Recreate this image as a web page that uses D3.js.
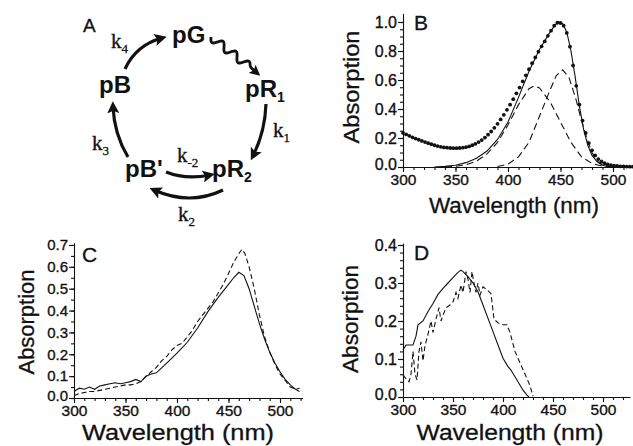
<!DOCTYPE html>
<html>
<head>
<meta charset="utf-8">
<script src="https://cdn.jsdelivr.net/npm/d3@7"></script>
<style>
  body { margin: 0; background: #fff; }
  svg { display: block; }
</style>
</head>
<body>
<svg id="fig" width="633" height="446"></svg>
<script>
// ---- data ----
const xTickNm = [300, 350, 400, 450, 500];
const bYTicks = [0, 0.2, 0.4, 0.6, 0.8, 1.0];
const cYTicks = [0, 0.1, 0.2, 0.3, 0.4, 0.5, 0.6, 0.7];
const dYTicks = [0, 0.1, 0.2, 0.3, 0.4];

// panel B: measured spectrum (dots), total fit and the two fitted bands
const bDotNm = [300,303,306,309,312,315,318,321,324,327,330,333,336,339,342,345,348,351,354,357,
  360,363,366,369,372,375,378,381,384,387,390,393,396,399,402,405,408,411,414,417,
  420,423,426,429,432,435,438,441,444,447,450,453,456,459,462,465,468,471,474,477,
  480,483,486,489,492,495,498,501,504,507,510,513,516,519];
const bDotAbs = [0.235,0.225,0.215,0.205,0.196,0.188,0.180,0.172,0.164,0.157,
  0.150,0.144,0.139,0.135,0.133,0.131,0.130,0.130,0.131,0.133,
  0.137,0.142,0.150,0.160,0.172,0.186,0.203,0.223,0.245,0.270,
  0.298,0.328,0.360,0.394,0.430,0.468,0.508,0.548,0.590,0.632,
  0.674,0.716,0.756,0.795,0.832,0.866,0.905,0.940,0.975,0.995,
  0.993,0.975,0.925,0.830,0.700,0.560,0.430,0.320,0.235,0.165,
  0.115,0.080,0.055,0.038,0.026,0.018,0.013,0.009,0.007,0.005,
  0.004,0.003,0.002,0.002];
const bFitNm = [330,340,350,360,370,380,390,400,410,420,430,440,445,448,452,456,460,464,468,472,476,480,485,490,495,500,520];
const bFitAbs = [0,0.004,0.012,0.03,0.06,0.11,0.19,0.31,0.48,0.66,0.81,0.93,0.98,1.0,0.99,0.93,0.80,0.62,0.42,0.26,0.15,0.08,0.035,0.012,0.004,0,0];
const bBand1Nm = [340,350,360,370,380,390,400,410,420,425,430,440,450,460,470,480,490,500];
const bBand1Abs = [0,0.005,0.015,0.04,0.09,0.17,0.29,0.43,0.54,0.56,0.545,0.45,0.31,0.17,0.07,0.025,0.006,0];
const bBand2Nm = [390,400,410,420,430,440,446,452,458,465,470,475,480,485,490,500];
const bBand2Abs = [0.003,0.02,0.07,0.17,0.35,0.53,0.63,0.67,0.62,0.46,0.32,0.2,0.1,0.04,0.015,0];

// panel C
const cSolidNm = [300,305,310,315,320,325,330,335,340,345,350,355,360,365,370,375,380,
  390,400,410,420,430,440,450,455,460,465,470,475,480,485,490,495,500,505,510,515,519];
const cSolidAbs = [0.03,0.045,0.04,0.05,0.04,0.055,0.06,0.065,0.07,0.065,0.07,0.075,0.085,0.075,0.10,0.11,0.115,
  0.16,0.205,0.255,0.32,0.395,0.46,0.52,0.55,0.575,0.56,0.50,0.42,0.34,0.27,0.21,0.16,0.12,0.085,0.06,0.04,0.03];
const cDashNm = [300,305,310,315,320,325,330,335,340,345,350,355,360,365,370,375,380,385,390,395,
  400,405,410,415,420,425,430,435,440,445,450,455,460,463,466,470,475,480,485,490,495,500,505,510,515,519];
const cDashAbs = [0.01,0.02,0.025,0.03,0.03,0.035,0.04,0.045,0.05,0.055,0.06,0.06,0.065,0.075,0.10,0.12,0.14,0.17,0.19,0.22,
  0.24,0.25,0.28,0.31,0.35,0.38,0.41,0.44,0.48,0.52,0.57,0.62,0.66,0.68,0.66,0.60,0.50,0.38,0.28,0.21,0.155,0.11,0.08,0.05,0.04,0.045];

// panel D
const dSolidNm = [300,303,310,313,315,320,325,330,335,340,345,350,355,358,360,365,370,375,380,385,
  390,395,400,405,408,410,415,420,424,426];
const dSolidAbs = [0.124,0.137,0.137,0.16,0.19,0.20,0.225,0.246,0.27,0.286,0.30,0.314,0.328,0.334,0.33,0.317,0.30,0.277,0.242,0.207,
  0.172,0.137,0.102,0.08,0.071,0.062,0.04,0.018,0.005,0];
const dDashNm = [300,303,306,308,310,312,314,316,318,320,322,325,328,330,333,336,338,340,343,346,
  350,353,355,358,360,363,365,367,369,371,373,375,377,380,385,388,391,395,400,404,407,412,417,422,427,430];
const dDashAbs = [0.058,0.048,0.04,0.06,0.12,0.06,0.045,0.12,0.145,0.095,0.135,0.165,0.2,0.17,0.205,0.235,0.2,0.215,0.235,0.24,
  0.25,0.275,0.26,0.295,0.275,0.33,0.31,0.275,0.33,0.3,0.275,0.3,0.268,0.29,0.28,0.272,0.205,0.195,0.19,0.19,0.17,0.12,0.09,0.06,0.03,0.002];

// ---- drawing ----
const svg = d3.select("#fig");
const sans = '"Liberation Sans", Arial, Helvetica, sans-serif';
const serif = '"Liberation Serif", "Times New Roman", serif';
const ink = "#111";

// scanned-print look: give text a hair of stroke
function heavy(sel, w) {
  return sel.attr("stroke", ink).attr("stroke-width", w).attr("paint-order", "stroke");
}

function panel(o) {
  const x = d3.scaleLinear().domain(o.xDomain).range(o.xRange);
  const y = d3.scaleLinear().domain(o.yDomain).range(o.yRange);
  const g = svg.append("g").attr("font-family", sans);
  const x0 = o.xRange[0], y0 = o.yRange[0];

  // minor ticks
  g.append("g")
    .attr("transform", `translate(0,${y0})`)
    .call(d3.axisBottom(x).tickValues(d3.range(300, o.xDomain[1] + 0.1, 10)).tickSize(3).tickFormat(""))
    .call(a => a.select(".domain").remove());
  g.append("g")
    .attr("transform", `translate(${x0},0)`)
    .call(d3.axisLeft(y).tickValues(d3.range(0, o.yTicks[o.yTicks.length - 1] + 1e-9, o.yMinor)).tickSize(3).tickFormat(""))
    .call(a => a.select(".domain").remove());

  // major axes
  g.append("g")
    .attr("transform", `translate(0,${y0})`)
    .call(d3.axisBottom(x).tickValues(xTickNm).tickSize(5).tickSizeOuter(0).tickPadding(2).tickFormat(d3.format("d")))
    .call(a => heavy(a.selectAll("text").attr("font-size", o.xFont).attr("font-family", sans).attr("fill", ink), 0.35));
  g.append("g")
    .attr("transform", `translate(${x0},0)`)
    .call(d3.axisLeft(y).tickValues(o.yTicks).tickSize(5).tickSizeOuter(0).tickPadding(1).tickFormat(d3.format(".1f")))
    .call(a => heavy(a.selectAll("text").attr("font-size", o.yFont).attr("font-family", sans).attr("fill", ink), 0.35))
    .call(a => a.selectAll(".tick text").filter(d => d === 0).attr("dy", "0.18em"));
  g.selectAll(".domain, .tick line").attr("stroke", ink).attr("stroke-width", 1.1);

  // titles
  heavy(g.append("text")
    .attr("x", o.xTitle[0]).attr("y", o.xTitle[1])
    .attr("text-anchor", "middle").attr("font-size", 22).attr("fill", ink)
    .attr("textLength", o.xTitle[2]).attr("lengthAdjust", "spacingAndGlyphs")
    .text("Wavelength (nm)"), 0.3);
  heavy(g.append("text")
    .attr("transform", `translate(${o.yTitle[0]},${o.yTitle[1]}) rotate(-90)`)
    .attr("text-anchor", "middle").attr("font-size", 22).attr("fill", ink)
    .attr("textLength", o.yTitle[2]).attr("lengthAdjust", "spacingAndGlyphs")
    .text("Absorption"), 0.3);
  heavy(g.append("text")
    .attr("x", o.letter[0]).attr("y", o.letter[1])
    .attr("font-size", 21).attr("fill", ink)
    .text(o.name), 0.3);

  return { g, x, y };
}

function curve(p, nm, abs, dash) {
  const line = d3.line().x((d, i) => p.x(nm[i])).y(d => p.y(d));
  p.g.append("path")
    .datum(abs)
    .attr("d", line)
    .attr("fill", "none")
    .attr("stroke", ink)
    .attr("stroke-width", 1.1)
    .attr("stroke-dasharray", dash || null);
}

// B
const pB = panel({
  name: "B", xDomain: [300, 520], xRange: [403, 634], yDomain: [0, 1.06], yRange: [167, 167 - 1.06 * 145],
  yTicks: bYTicks, yMinor: 0.05, xFont: 15.5, yFont: 16,
  xTitle: [514, 213, 170], yTitle: [359, 87, 113], letter: [414, 30]
});
curve(pB, bBand1Nm, bBand1Abs, "7,4");
curve(pB, bBand2Nm, bBand2Abs, "7,4");
curve(pB, bFitNm, bFitAbs);
pB.g.selectAll(".dot")
  .data(bDotAbs)
  .join("circle")
  .attr("cx", (d, i) => pB.x(bDotNm[i]))
  .attr("cy", d => pB.y(d))
  .attr("r", 1.9)
  .attr("fill", ink);

// C
const pC = panel({
  name: "C", xDomain: [300, 522], xRange: [74, 74 + 222 * 1.03], yDomain: [0, 0.71], yRange: [398, 398 - 0.71 * 218.6],
  yTicks: cYTicks, yMinor: 0.05, xFont: 15.5, yFont: 15,
  xTitle: [178, 440, 192], yTitle: [34, 322, 105], letter: [82, 262]
});
curve(pC, cDashNm, cDashAbs, "5,3");
curve(pC, cSolidNm, cSolidAbs);

// D
const pD = panel({
  name: "D", xDomain: [300, 527], xRange: [403, 630], yDomain: [0, 0.405], yRange: [397, 397 - 0.405 * 380],
  yTicks: dYTicks, yMinor: 0.02, xFont: 15.5, yFont: 16,
  xTitle: [510, 440, 187], yTitle: [358, 319, 108], letter: [414, 260]
});
curve(pD, dDashNm, dDashAbs, "5,3");
curve(pD, dSolidNm, dSolidAbs);

// ---- panel A: photocycle scheme ----
const states = [
  { id: "pG",  sub: "" },
  { id: "pR",  sub: "1" },
  { id: "pR",  sub: "2" },
  { id: "pB'", sub: "" },
  { id: "pB",  sub: "" }
];
const rates = [
  { k: "4" }, { k: "1" }, { k: "-2" }, { k: "2" }, { k: "3" }
];
const a = svg.append("g");
a.append("defs").append("marker")
  .attr("id", "head")
  .attr("viewBox", "0 0 10 10")
  .attr("refX", 6).attr("refY", 5)
  .attr("markerWidth", 3.8).attr("markerHeight", 3.8)
  .attr("markerUnits", "strokeWidth")
  .attr("orient", "auto")
  .append("path").attr("d", "M0,0 L10,5 L0,10 L2,5 Z").attr("fill", ink);

heavy(a.append("text").attr("x", 83).attr("y", 32).attr("font-family", sans).attr("font-size", 19).attr("fill", ink).text("A"), 0.3);

const statePos = [[172, 43], [245, 97], [212, 177], [125, 177], [99, 93]];
states.forEach((s, i) => {
  const t = a.append("text")
    .attr("x", statePos[i][0]).attr("y", statePos[i][1])
    .attr("font-family", sans).attr("font-weight", "bold").attr("font-size", 24).attr("fill", ink);
  t.append("tspan").text(s.id);
  if (s.sub) t.append("tspan").attr("dy", 5).attr("font-size", 14).text(s.sub);
});

const ratePos = [[111, 48], [273, 137], [177, 162], [178, 221], [92, 150]];
rates.forEach((r, i) => {
  const t = a.append("text")
    .attr("x", ratePos[i][0]).attr("y", ratePos[i][1])
    .attr("font-family", serif).attr("font-size", 21).attr("fill", ink);
  heavy(t, 0.3);
  t.append("tspan").text("k");
  t.append("tspan").attr("dy", 5).attr("font-size", 13).text(r.k);
});

// wavy light arrow pG -> pR1
const wave = [];
{
  const sx = 211, sy = 37, ex = 250, ey = 67;
  const len = Math.hypot(ex - sx, ey - sy), ux = (ex - sx) / len, uy = (ey - sy) / len;
  for (let t = 0; t <= 1.0001; t += 0.02) {
    const off = 4 * Math.sin(t * Math.PI * 6);
    wave.push([sx + ux * len * t - uy * off, sy + uy * len * t + ux * off]);
  }
  wave.push([257, 73]);
}
a.append("path").attr("d", d3.line().curve(d3.curveBasis)(wave))
  .attr("fill", "none").attr("stroke", ink).attr("stroke-width", 2.8).attr("marker-end", "url(#head)");

const arrows = [
  "M125,69 Q136,45 162,38",   // pB -> pG (k4)
  "M266,104 Q265,132 253,156", // pR1 -> pR2 (k1)
  "M166,172 Q186,180 210,175", // pB' -> pR2 (k-2)
  "M223,190 Q190,206 154,190", // pR2 -> pB' (k2)
  "M128,157 Q114,134 113,106"  // pB' -> pB (k3)
];
arrows.forEach(d => a.append("path").attr("d", d)
  .attr("fill", "none").attr("stroke", ink).attr("stroke-width", 3.2).attr("marker-end", "url(#head)"));
</script>
</body>
</html>
